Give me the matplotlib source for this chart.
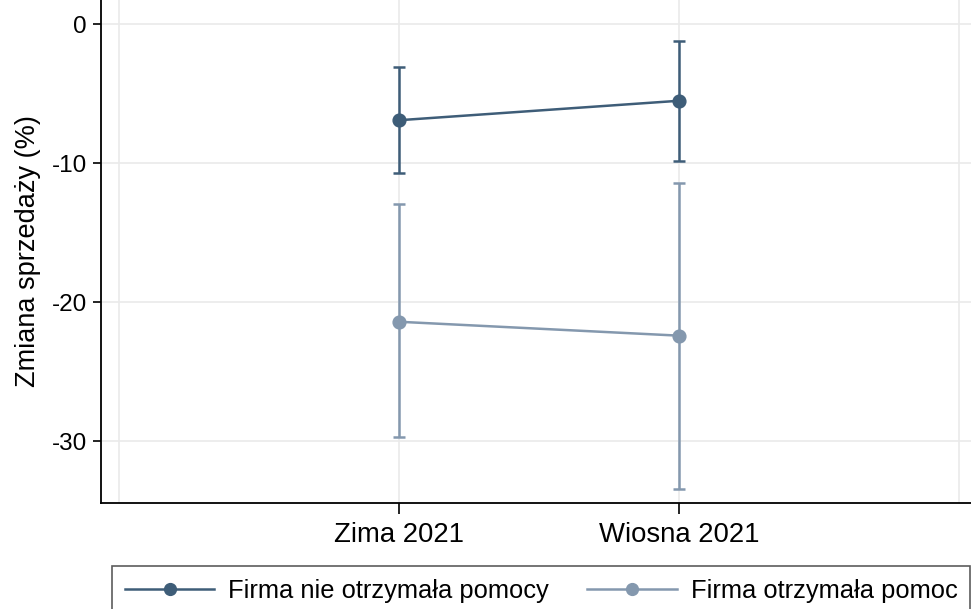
import matplotlib.pyplot as plt
from matplotlib.lines import Line2D

plt.rcParams["font.family"] = ["Liberation Sans", "DejaVu Sans"]

# seasons on the x axis
seasons = ["Zima 2021", "Wiosna 2021"]
season_pos = [1, 2]

# mean change in sales with 95% CI bounds, per group
no_aid_mean = [-6.9, -5.5]
no_aid_upper = [-3.1, -1.2]
no_aid_lower = [-10.7, -9.8]

aid_mean = [-21.4, -22.4]
aid_upper = [-12.95, -11.45]
aid_lower = [-29.7, -33.4]

labels = ["Firma nie otrzymała pomocy", "Firma otrzymała pomoc"]
colors = ["#3e5d78", "#8498ae"]

fig = plt.figure(figsize=(9.71, 6.09), dpi=100)
ax = fig.add_axes([101 / 971, 1 - 503 / 609, 870 / 971, 503 / 609])

series = [
    (no_aid_mean, no_aid_lower, no_aid_upper),
    (aid_mean, aid_lower, aid_upper),
]
for (mean, lower, upper), color in zip(series, colors):
    yerr = [[m - lo for m, lo in zip(mean, lower)],
            [up - m for m, up in zip(mean, upper)]]
    ax.errorbar(season_pos, mean, yerr=yerr, fmt="none", ecolor=color,
                elinewidth=1.8, capsize=4.5, capthick=1.8, zorder=3)
    ax.plot(season_pos, mean, color=color, lw=1.8, marker="o", ms=9.2,
            zorder=4)

ax.set_xlim(-0.064, 3.043)
ax.set_ylim(-34.44, 1.75)

ax.set_xticks(season_pos)
ax.set_xticklabels(seasons, fontsize=19.8)
ax.set_xticks([0, 3], minor=True)
ax.tick_params(axis="x", which="minor", length=0)
ax.tick_params(axis="x", which="major", length=8, width=1.2, pad=6)

ax.set_yticks([0, -10, -20, -30])
ax.set_yticklabels(["0", "-10", "-20", "-30"], fontsize=17.5)
ax.tick_params(axis="y", length=6, width=1.2, pad=4)
ax.set_ylabel("Zmiana sprzedaży (%)", fontsize=19.5, labelpad=8)

ax.grid(True, which="both", color="#eaeaea", lw=1.2)
ax.set_axisbelow(True)
for side in ("top", "right"):
    ax.spines[side].set_visible(False)
for side in ("left", "bottom"):
    ax.spines[side].set_linewidth(1.3)

handles = [Line2D([], [], color=c, lw=1.8, marker="o", ms=8.5) for c in colors]
leg = fig.legend(handles, labels, loc="upper left",
                 bbox_to_anchor=(112 / 971, 1 - 566 / 609), borderaxespad=0,
                 ncol=2, fontsize=18.4, handlelength=3.5, handletextpad=0.55,
                 columnspacing=1.5, borderpad=0.5, fancybox=False,
                 frameon=True, edgecolor="#333333")
leg.get_frame().set_linewidth(1.2)

fig.savefig("out.png", dpi=100)
